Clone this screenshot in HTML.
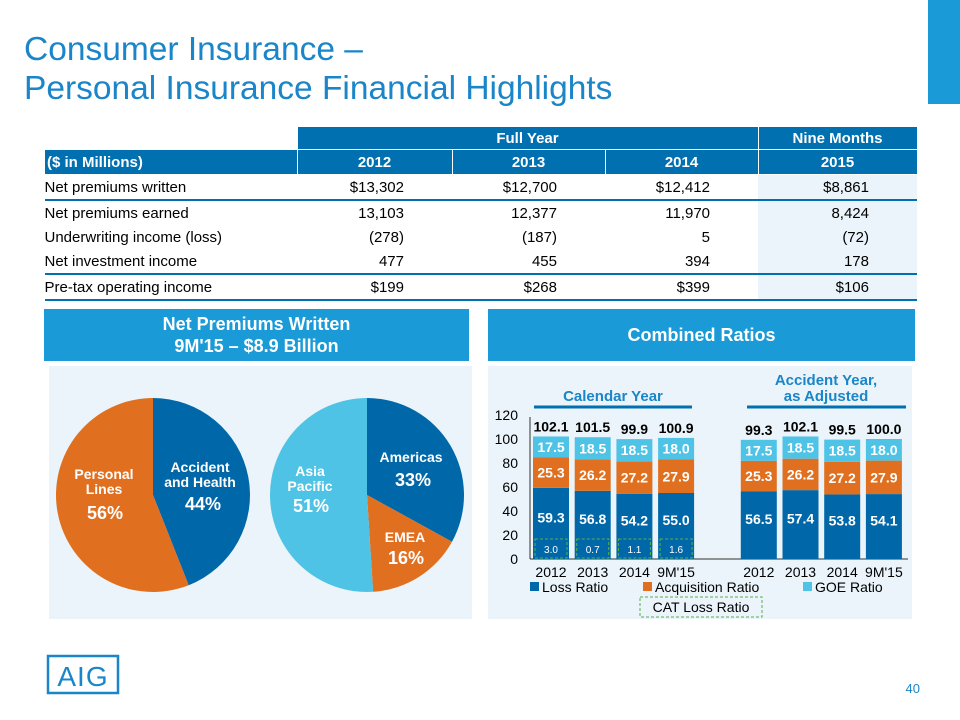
<!DOCTYPE html>
<html><head><meta charset="utf-8">
<style>
body{margin:0;width:960px;height:720px;background:#fff;font-family:"Liberation Sans",sans-serif;position:relative;overflow:hidden}
.abs{position:absolute}
#title{left:24px;top:30px;font-size:33.5px;line-height:39px;color:#1a85c8}
table{position:absolute;left:44px;top:126px;border-collapse:collapse;font-size:15px;color:#000}
td{height:24px;padding:0;white-space:nowrap}
.h1 td{background:#0070b0;color:#fff;font-weight:bold;text-align:center;height:22px;border:1px solid #fff}
.h2 td{background:#0070b0;color:#fff;font-weight:bold;text-align:center;border:1px solid #fff}
.num{text-align:right;padding-right:48px}
.nm{background:#eaf4fa}
.hdr{background:#1a9ad6;color:#fff;font-weight:bold;font-size:18px;text-align:center;display:flex;align-items:center;justify-content:center;line-height:22px}
.panel{background:#eaf4fa}
</style></head><body>
<div id="title" class="abs">Consumer Insurance –<br>Personal Insurance Financial Highlights</div>
<div class="abs" style="left:928px;top:0;width:32px;height:104px;background:#1a9ad6"></div>

<table>
<tr class="h1"><td style="width:252px;background:#fff;border:none"></td><td colspan="3">Full Year</td><td>Nine Months</td></tr>
<tr class="h2"><td style="text-align:left;padding-left:2px">($ in Millions)</td><td style="width:154px">2012</td><td style="width:152px">2013</td><td style="width:152px">2014</td><td style="width:158px">2015</td></tr>
<tr style="border-bottom:2px solid #0070b0"><td>Net premiums written</td><td class="num">$13,302</td><td class="num">$12,700</td><td class="num">$12,412</td><td class="num nm">$8,861</td></tr>
<tr><td>Net premiums earned</td><td class="num">13,103</td><td class="num">12,377</td><td class="num">11,970</td><td class="num nm">8,424</td></tr>
<tr><td>Underwriting income (loss)</td><td class="num">(278)</td><td class="num">(187)</td><td class="num">5</td><td class="num nm">(72)</td></tr>
<tr style="border-bottom:2px solid #0070b0"><td>Net investment income</td><td class="num">477</td><td class="num">455</td><td class="num">394</td><td class="num nm">178</td></tr>
<tr style="border-bottom:2px solid #0070b0"><td>Pre-tax operating income</td><td class="num">$199</td><td class="num">$268</td><td class="num">$399</td><td class="num nm">$106</td></tr>
</table>

<div class="abs hdr" style="left:44px;top:309px;width:425px;height:52px">Net Premiums Written<br>9M'15 – $8.9 Billion</div>
<div class="abs hdr" style="left:488px;top:309px;width:427px;height:52px">Combined Ratios</div>
<div class="abs panel" style="left:49px;top:366px;width:423px;height:253px"></div>
<div class="abs panel" style="left:488px;top:366px;width:424px;height:253px"></div>

<svg class="abs" style="left:0;top:0" width="960" height="720" id="svg">
<g id="pies"></g><g id="bars"></g>
<text x="613" y="401" text-anchor="middle" font-size="15" font-weight="bold" fill="#1a85c8">Calendar Year</text>
<line x1="534" y1="407" x2="692" y2="407" stroke="#0070b0" stroke-width="3"/>
<text x="826" y="385" text-anchor="middle" font-size="15" font-weight="bold" fill="#1a85c8">Accident Year,</text>
<text x="826" y="401" text-anchor="middle" font-size="15" font-weight="bold" fill="#1a85c8">as Adjusted</text>
<line x1="747" y1="407" x2="906" y2="407" stroke="#0070b0" stroke-width="3"/>
<g font-size="14" fill="#000">
<rect x="530" y="582" width="9" height="9" fill="#0068a8"/><text x="542" y="592">Loss Ratio</text>
<rect x="643" y="582" width="9" height="9" fill="#e07020"/><text x="655" y="592">Acquisition Ratio</text>
<rect x="803" y="582" width="9" height="9" fill="#4fc3e6"/><text x="815" y="592">GOE Ratio</text>
<rect x="640" y="597" width="122" height="20" fill="none" stroke="#5ab04a" stroke-dasharray="3,2"/><text x="701" y="612" text-anchor="middle">CAT Loss Ratio</text>
</g>
<g>
<rect x="48" y="656" width="70" height="37" fill="none" stroke="#1a85c8" stroke-width="2.5"/>
<text x="83" y="686" text-anchor="middle" font-size="28" fill="#1a85c8" letter-spacing="1">AIG</text>
</g>
<text x="920" y="693" text-anchor="end" font-size="13" fill="#1a85c8">40</text>
</svg>

<script>
const pie1Labels=["Accident and Health","Personal Lines"];
const pie1Values=[44,56];
const pie2Labels=["Americas","EMEA","Asia Pacific"];
const pie2Values=[33,16,51];
const categories=["2012","2013","2014","9M'15","2012","2013","2014","9M'15"];
const lossRatio=[59.3,56.8,54.2,55.0,56.5,57.4,53.8,54.1];
const acqRatio=[25.3,26.2,27.2,27.9,25.3,26.2,27.2,27.9];
const goeRatio=[17.5,18.5,18.5,18.0,17.5,18.5,18.5,18.0];
const totals=[102.1,101.5,99.9,100.9,99.3,102.1,99.5,100.0];
const catRatio=[3.0,0.7,1.1,1.6];
const yTicks=[0,20,40,60,80,100,120];

const NS="http://www.w3.org/2000/svg";
function mk(tag,attrs,parent,txt){const e=document.createElementNS(NS,tag);for(const k in attrs)e.setAttribute(k,attrs[k]);if(txt!==undefined)e.textContent=txt;parent.appendChild(e);return e;}

const pies=document.getElementById('pies');
function drawPie(cx,cy,r,vals,cols,names){
  const tot=vals.reduce((a,b)=>a+b,0);let a0=-Math.PI/2;
  vals.forEach((v,i)=>{
    const a1=a0+v/tot*2*Math.PI;
    const x0=cx+r*Math.cos(a0),y0=cy+r*Math.sin(a0),x1=cx+r*Math.cos(a1),y1=cy+r*Math.sin(a1);
    const p=mk('path',{d:`M${cx},${cy}L${x0},${y0}A${r},${r} 0 ${a1-a0>Math.PI?1:0} 1 ${x1},${y1}Z`,fill:cols[i]},pies);
    
    
    a0=a1;
  });
}
drawPie(153,495,97,pie1Values,["#0068a8","#e07020"],["pie-slice-accident-health","pie-slice-personal-lines"]);
drawPie(367,495,97,pie2Values,["#0068a8","#e07020","#4fc3e6"],["pie-slice-americas","pie-slice-emea","pie-slice-asia-pacific"]);
function lbl(x,y,lines,size){lines.forEach((l,i)=>{const t=mk('text',{x:x,y:y+i*15,'text-anchor':'middle','font-size':14,'font-weight':'bold',fill:'#fff'},pies,l);});}
lbl(200,472,["Accident","and Health"],14);
mk('text',{x:203,y:510,'text-anchor':'middle','font-size':18,'font-weight':'bold',fill:'#fff'},pies,pie1Values[0]+"%");
lbl(104,479,["Personal","Lines"],14);
mk('text',{x:105,y:519,'text-anchor':'middle','font-size':18,'font-weight':'bold',fill:'#fff'},pies,pie1Values[1]+"%");
lbl(411,462,["Americas"],14);
mk('text',{x:413,y:486,'text-anchor':'middle','font-size':18,'font-weight':'bold',fill:'#fff'},pies,pie2Values[0]+"%");
lbl(405,542,["EMEA"],14);
mk('text',{x:406,y:564,'text-anchor':'middle','font-size':18,'font-weight':'bold',fill:'#fff'},pies,pie2Values[1]+"%");
lbl(310,476,["Asia","Pacific"],14);
mk('text',{x:311,y:512,'text-anchor':'middle','font-size':18,'font-weight':'bold',fill:'#fff'},pies,pie2Values[2]+"%");

const bars=document.getElementById('bars');
const y0=559,yScale=1.2;
const Y=v=>y0-v*yScale;
const X=i=>551+i*41.7+(i>=4?41:0);
const bw=36;
yTicks.forEach(t=>{const e=mk('text',{x:518,y:Y(t)+5,'text-anchor':'end','font-size':14,fill:'#000'},bars,t);});
mk('line',{x1:530,y1:Y(120)+2,x2:530,y2:y0,stroke:'#333'},bars);
mk('line',{x1:530,y1:y0,x2:908,y2:y0,stroke:'#333'},bars);
categories.forEach((c,i)=>{
  const cx=X(i);
  let base=0;
  [[lossRatio,'#0068a8','loss'],[acqRatio,'#e07020','acq'],[goeRatio,'#4fc3e6','goe']].forEach(([arr,col,nm])=>{
    const v=arr[i];
    const r=mk('rect',{x:cx-bw/2,y:Y(base+v),width:bw,height:v*yScale,fill:col},bars);
    
    
    mk('text',{x:cx,y:Y(base+v/2)+(nm=='loss'?-1:5),'text-anchor':'middle','font-size':14,'font-weight':'bold',fill:'#fff'},bars,v.toFixed(1));
    base+=v;
  });
  const t=mk('text',{x:cx,y:Y(base)-5,'text-anchor':'middle','font-size':14,'font-weight':'bold',fill:'#000'},bars,totals[i].toFixed(1));
  
  
  const c2=mk('text',{x:cx,y:577,'text-anchor':'middle','font-size':14,fill:'#000'},bars,c);
  
  
  if(i<catRatio.length){
    const b=mk('rect',{x:cx-16,y:y0-20,width:32,height:19,fill:'none',stroke:'#5ab04a','stroke-dasharray':'3,2'},bars);
    
    
    mk('text',{x:cx,y:y0-6,'text-anchor':'middle','font-size':10,fill:'#fff'},bars,catRatio[i].toFixed(1));
  }
});
</script>
</body></html>
